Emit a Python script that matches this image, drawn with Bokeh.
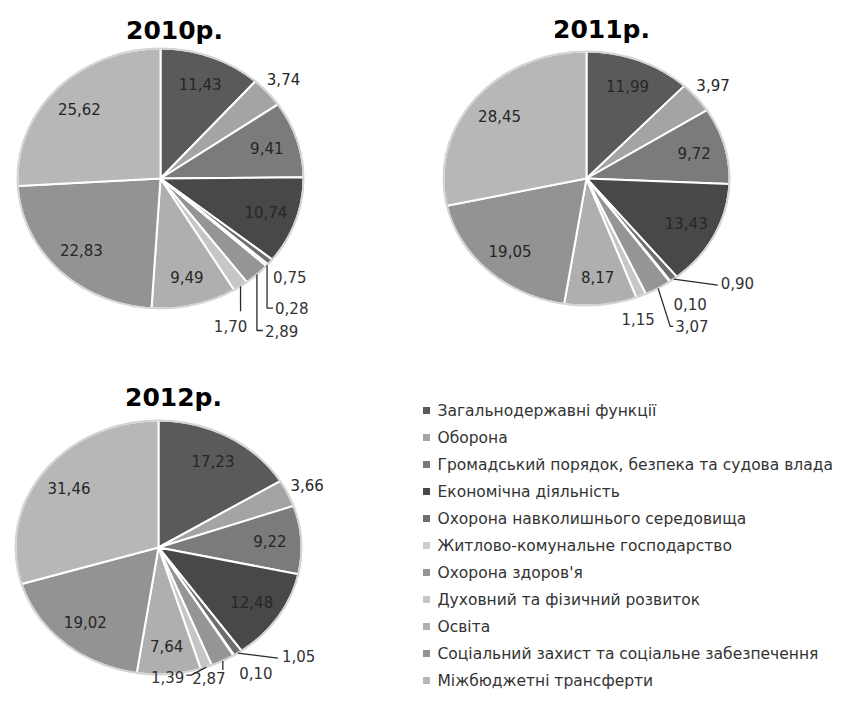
import numpy as np
from bokeh.plotting import figure
from bokeh.models import Range1d
from bokeh.core.properties import value
from bokeh.embed import file_html
from bokeh.resources import INLINE

# ---------------- data ----------------
categories = [
    "Загальнодержавні функції",
    "Оборона",
    "Громадський порядок, безпека та судова влада",
    "Економічна діяльність",
    "Охорона навколишнього середовища",
    "Житлово-комунальне господарство",
    "Охорона здоров'я",
    "Духовний та фізичний розвиток",
    "Освіта",
    "Соціальний захист та соціальне забезпечення",
    "Міжбюджетні трансферти",
]
years = ["2010р.", "2011р.", "2012р."]
v2010 = [11.43, 3.74, 9.41, 10.74, 0.75, 0.28, 2.89, 1.70, 9.49, 22.83, 25.62]
v2011 = [11.99, 3.97, 9.72, 13.43, 0.90, 0.10, 3.07, 1.15, 8.17, 19.05, 28.45]
v2012 = [17.23, 3.66, 9.22, 12.48, 1.05, 0.10, 2.87, 1.39, 7.64, 19.02, 31.46]
series = [v2010, v2011, v2012]

# ---------------- styles / layout ----------------
colors = ["#5a5a5a", "#a4a4a4", "#7b7b7b", "#484848", "#6e6e6e", "#cdcdcd",
          "#959595", "#c6c6c6", "#afafaf", "#939393", "#b7b7b7"]
FONT = "DejaVu Sans"
# pie centre x, centre y, radius x, radius y (page pixels)
pies = [(160, 178, 143, 130), (586, 178, 143, 127), (158, 547, 143, 127)]
title_off = [(14, -148), (15, -149), (15, -150)]
inside_idx = [0, 2, 3, 8, 9, 10]
# callouts: index -> (leader offsets from edge anchor, label offset, align)
callouts = [
    {4: ([], (3, 15), "left"),
     5: ([(0, 43), (6, 43)], (8, 43), "left"),
     6: ([(0, 56), (6, 56)], (8, 56), "left"),
     7: ([(0, 25)], (-10, 40), "center")},
    {4: ([(44, 6)], (47, 4), "left"),
     5: ([], (20, 22), "center"),
     6: ([(12, 38), (15, 38)], (17, 38), "left"),
     7: ([], (-3, 23), "center")},
    {4: ([(40, 5)], (44, 3), "left"),
     5: ([], (22, 18), "center"),
     6: ([(0, 9)], (-14, 17), "center"),
     7: ([(-15, 8), (-20, 8)], (-22, 10), "right")},
]

W, H = 833, 691
p = figure(width=W, height=H, x_range=Range1d(0, W), y_range=Range1d(H, 0),
           output_backend="svg", toolbar_location=None, min_border=0,
           x_axis_location=None, y_axis_location=None)
p.grid.visible = False
p.outline_line_color = None
p.background_fill_color = "white"
p.border_fill_color = "white"


def fmt(v):
    return f"{v:.2f}".replace(".", ",")


NUM_SIZE = "15px"
NUM_COLOR = "#262626"

for k, vals in enumerate(series):
    cx, cy, rx, ry = pies[k]
    tot = sum(vals)
    cum = np.concatenate([[0], np.cumsum(vals)]) / tot * 2 * np.pi
    xs, ys = [], []
    for i in range(len(vals)):
        t = np.linspace(cum[i], cum[i + 1], max(3, int(np.degrees(cum[i + 1] - cum[i])) + 2))
        xs.append([cx] + list(cx + rx * np.sin(t)))
        ys.append([cy] + list(cy - ry * np.cos(t)))
    p.patches(xs=xs, ys=ys, fill_color=colors, line_color="white", line_width=2)
    p.ellipse(x=[cx], y=[cy], width=[2 * rx], height=[2 * ry], fill_color=None,
              line_color="#d4d4d4", line_width=2)

    mid = (cum[:-1] + cum[1:]) / 2
    # inside labels
    lx = [cx + 0.78 * rx * np.sin(mid[i]) for i in inside_idx]
    ly = [cy - 0.78 * ry * np.cos(mid[i]) for i in inside_idx]
    lt = [fmt(vals[i]) for i in inside_idx]
    # outside label (Оборона)
    lx.append(cx + 1.15 * rx * np.sin(mid[1]))
    ly.append(cy - 1.15 * ry * np.cos(mid[1]))
    lt.append(fmt(vals[1]))
    p.text(x=lx, y=ly, text=lt, text_align="center", text_baseline="middle",
           text_font=value(FONT), text_font_size=NUM_SIZE, text_color=NUM_COLOR)
    # callouts
    for i, (pts, loff, al) in callouts[k].items():
        ax = cx + rx * np.sin(mid[i])
        ay = cy - ry * np.cos(mid[i])
        if pts:
            p.line(x=[ax] + [ax + d[0] for d in pts], y=[ay] + [ay + d[1] for d in pts],
                   line_color="#2a2a2a", line_width=1.3)
        p.text(x=[ax + loff[0]], y=[ay + loff[1]], text=[fmt(vals[i])], text_align=al,
               text_baseline="middle", text_font=value(FONT), text_font_size=NUM_SIZE,
               text_color="#333333")
    # title
    p.text(x=[cx + title_off[k][0]], y=[cy + title_off[k][1]], text=[years[k]],
           text_align="center", text_baseline="alphabetic", text_font=value(FONT),
           text_font_style="bold", text_font_size="25px", text_color="black")

# legend
ly0, dy = 410, 27.0
leg_y = [ly0 + i * dy for i in range(len(categories))]
p.rect(x=[426] * len(categories), y=leg_y, width=7, height=7, fill_color=colors,
       line_color=None)
p.text(x=[437] * len(categories), y=leg_y, text=categories, text_align="left",
       text_baseline="middle", text_font=value(FONT), text_font_size="15.5px",
       text_color="#333333")

open("out.html", "w").write(file_html(p, INLINE))
